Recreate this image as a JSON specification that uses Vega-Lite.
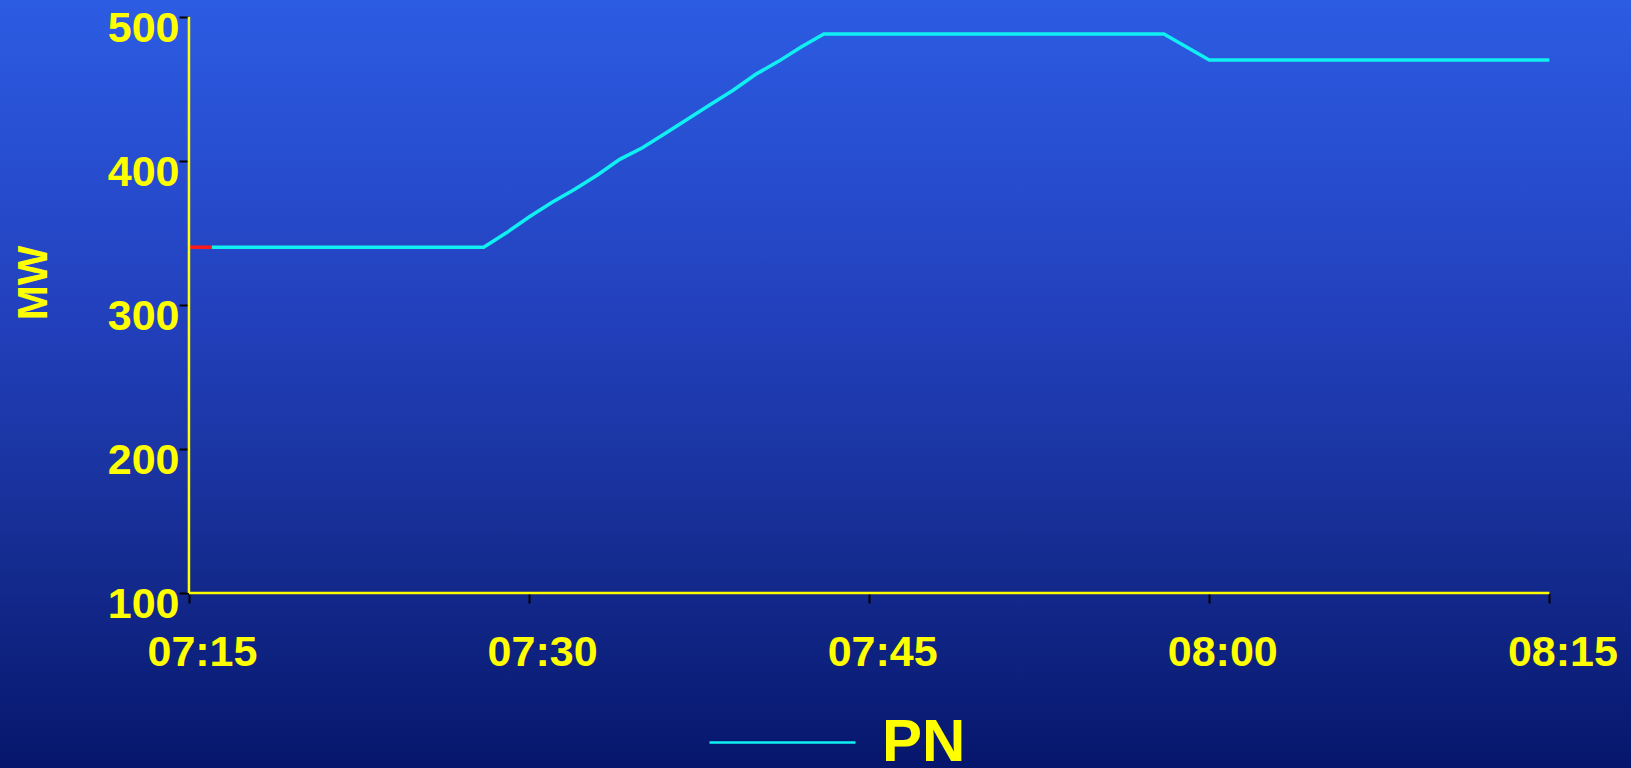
{
  "$schema": "https://vega.github.io/schema/vega-lite/v6.json",
  "width": 1631,
  "height": 768,
  "autosize": {"type": "none"},
  "padding": 0,
  "background": "#05136b",
  "config": {
    "font": "Liberation Sans",
    "view": {
      "stroke": null,
      "fill": {
        "gradient": "linear",
        "x1": 0, "y1": 0, "x2": 0, "y2": 1,
        "stops": [
          {"offset": 0, "color": "#2c5ce3"},
          {"offset": 0.4, "color": "#2341be"},
          {"offset": 0.7, "color": "#162e94"},
          {"offset": 1, "color": "#06166c"}
        ]
      }
    }
  },
  "data": {
    "values": [
      {"time": "2024-01-01T07:15:00", "mw": 340, "series": "hist"},
      {"time": "2024-01-01T07:16:00", "mw": 340, "series": "hist"},
      {"time": "2024-01-01T07:16:00", "mw": 340, "series": "PN"},
      {"time": "2024-01-01T07:17:00", "mw": 340, "series": "PN"},
      {"time": "2024-01-01T07:18:00", "mw": 340, "series": "PN"},
      {"time": "2024-01-01T07:19:00", "mw": 340, "series": "PN"},
      {"time": "2024-01-01T07:20:00", "mw": 340, "series": "PN"},
      {"time": "2024-01-01T07:21:00", "mw": 340, "series": "PN"},
      {"time": "2024-01-01T07:22:00", "mw": 340, "series": "PN"},
      {"time": "2024-01-01T07:23:00", "mw": 340, "series": "PN"},
      {"time": "2024-01-01T07:24:00", "mw": 340, "series": "PN"},
      {"time": "2024-01-01T07:25:00", "mw": 340, "series": "PN"},
      {"time": "2024-01-01T07:26:00", "mw": 340, "series": "PN"},
      {"time": "2024-01-01T07:27:00", "mw": 340, "series": "PN"},
      {"time": "2024-01-01T07:28:00", "mw": 340, "series": "PN"},
      {"time": "2024-01-01T07:29:00", "mw": 350, "series": "PN"},
      {"time": "2024-01-01T07:30:00", "mw": 361, "series": "PN"},
      {"time": "2024-01-01T07:31:00", "mw": 371, "series": "PN"},
      {"time": "2024-01-01T07:32:00", "mw": 380, "series": "PN"},
      {"time": "2024-01-01T07:33:00", "mw": 390, "series": "PN"},
      {"time": "2024-01-01T07:34:00", "mw": 401, "series": "PN"},
      {"time": "2024-01-01T07:35:00", "mw": 409, "series": "PN"},
      {"time": "2024-01-01T07:36:00", "mw": 419, "series": "PN"},
      {"time": "2024-01-01T07:37:00", "mw": 429, "series": "PN"},
      {"time": "2024-01-01T07:38:00", "mw": 439, "series": "PN"},
      {"time": "2024-01-01T07:39:00", "mw": 449, "series": "PN"},
      {"time": "2024-01-01T07:40:00", "mw": 460, "series": "PN"},
      {"time": "2024-01-01T07:41:00", "mw": 469, "series": "PN"},
      {"time": "2024-01-01T07:42:00", "mw": 479, "series": "PN"},
      {"time": "2024-01-01T07:43:00", "mw": 488, "series": "PN"},
      {"time": "2024-01-01T07:44:00", "mw": 488, "series": "PN"},
      {"time": "2024-01-01T07:45:00", "mw": 488, "series": "PN"},
      {"time": "2024-01-01T07:46:00", "mw": 488, "series": "PN"},
      {"time": "2024-01-01T07:47:00", "mw": 488, "series": "PN"},
      {"time": "2024-01-01T07:48:00", "mw": 488, "series": "PN"},
      {"time": "2024-01-01T07:49:00", "mw": 488, "series": "PN"},
      {"time": "2024-01-01T07:50:00", "mw": 488, "series": "PN"},
      {"time": "2024-01-01T07:51:00", "mw": 488, "series": "PN"},
      {"time": "2024-01-01T07:52:00", "mw": 488, "series": "PN"},
      {"time": "2024-01-01T07:53:00", "mw": 488, "series": "PN"},
      {"time": "2024-01-01T07:54:00", "mw": 488, "series": "PN"},
      {"time": "2024-01-01T07:55:00", "mw": 488, "series": "PN"},
      {"time": "2024-01-01T07:56:00", "mw": 488, "series": "PN"},
      {"time": "2024-01-01T07:57:00", "mw": 488, "series": "PN"},
      {"time": "2024-01-01T07:58:00", "mw": 488, "series": "PN"},
      {"time": "2024-01-01T07:59:00", "mw": 479, "series": "PN"},
      {"time": "2024-01-01T08:00:00", "mw": 470, "series": "PN"},
      {"time": "2024-01-01T08:01:00", "mw": 470, "series": "PN"},
      {"time": "2024-01-01T08:02:00", "mw": 470, "series": "PN"},
      {"time": "2024-01-01T08:03:00", "mw": 470, "series": "PN"},
      {"time": "2024-01-01T08:04:00", "mw": 470, "series": "PN"},
      {"time": "2024-01-01T08:05:00", "mw": 470, "series": "PN"},
      {"time": "2024-01-01T08:06:00", "mw": 470, "series": "PN"},
      {"time": "2024-01-01T08:07:00", "mw": 470, "series": "PN"},
      {"time": "2024-01-01T08:08:00", "mw": 470, "series": "PN"},
      {"time": "2024-01-01T08:09:00", "mw": 470, "series": "PN"},
      {"time": "2024-01-01T08:10:00", "mw": 470, "series": "PN"},
      {"time": "2024-01-01T08:11:00", "mw": 470, "series": "PN"},
      {"time": "2024-01-01T08:12:00", "mw": 470, "series": "PN"},
      {"time": "2024-01-01T08:13:00", "mw": 470, "series": "PN"},
      {"time": "2024-01-01T08:14:00", "mw": 470, "series": "PN"},
      {"time": "2024-01-01T08:15:00", "mw": 470, "series": "PN"}
    ]
  },
  "layer": [
    {
      "transform": [{"filter": "datum.series === 'PN'"}],
      "mark": {"type": "line", "strokeWidth": 3.5, "interpolate": "linear"},
      "encoding": {
        "x": {
          "field": "time",
          "type": "temporal",
          "scale": {
            "domain": [
              {"year": 2024, "month": 1, "date": 1, "hours": 7, "minutes": 6, "seconds": 40},
              {"year": 2024, "month": 1, "date": 1, "hours": 8, "minutes": 18, "seconds": 36}
            ],
            "nice": false
          },
          "axis": {
            "values": [
              {"year": 2024, "month": 1, "date": 1, "hours": 7, "minutes": 15},
              {"year": 2024, "month": 1, "date": 1, "hours": 7, "minutes": 30},
              {"year": 2024, "month": 1, "date": 1, "hours": 7, "minutes": 45},
              {"year": 2024, "month": 1, "date": 1, "hours": 8, "minutes": 0},
              {"year": 2024, "month": 1, "date": 1, "hours": 8, "minutes": 15}
            ],
            "format": "%H:%M",
            "offset": -175,
            "domain": false,
            "grid": false,
            "tickColor": "#000000",
            "tickWidth": 2,
            "tickSize": 10,
            "labelColor": "#ffff00",
            "labelFont": "Liberation Sans",
            "labelFontSize": 43,
            "labelFontWeight": "bold",
            "labelBaseline": "alphabetic",
            "labelPadding": 62,
            "labelOffset": 13,
            "labelFlush": false,
            "labelOverlap": false,
            "title": null
          }
        },
        "y": {
          "field": "mw",
          "type": "quantitative",
          "scale": {"domain": [-21.46, 511.59], "nice": false, "zero": false},
          "axis": {
            "values": [100, 200, 300, 400, 500],
            "offset": -189,
            "domain": false,
            "grid": false,
            "tickColor": "#000000",
            "tickWidth": 2,
            "tickSize": 10,
            "labelColor": "#ffff00",
            "labelFont": "Liberation Sans",
            "labelFontSize": 43,
            "labelFontWeight": "bold",
            "labelBaseline": "alphabetic",
            "labelPadding": 0,
            "labelOffset": 24.5,
            "labelFlush": false,
            "labelOverlap": false,
            "title": "MW",
            "titleColor": "#ffff00",
            "titleFont": "Liberation Sans",
            "titleFontSize": 42,
            "titleFontWeight": "bold",
            "titleAngle": -90,
            "titleAlign": "center",
            "titleBaseline": "alphabetic",
            "titleX": -143,
            "titleY": 282.5
          }
        },
        "color": {
          "field": "series",
          "type": "nominal",
          "scale": {"domain": ["PN"], "range": ["#10f0f2"]},
          "legend": {
            "orient": "none",
            "legendX": 708,
            "legendY": 668,
            "title": null,
            "padding": 0,
            "symbolType": "stroke",
            "symbolSize": 21316,
            "symbolStrokeWidth": 2.5,
            "labelColor": "#ffff00",
            "labelFont": "Liberation Sans",
            "labelFontSize": 60,
            "labelFontWeight": "bold",
            "labelOffset": 25,
            "labelBaseline": "middle"
          }
        }
      }
    },
    {
      "transform": [{"filter": "datum.series === 'hist'"}],
      "mark": {"type": "line", "strokeWidth": 3.5, "color": "#ff1a1a"},
      "encoding": {
        "x": {"field": "time", "type": "temporal"},
        "y": {"field": "mw", "type": "quantitative"}
      }
    },
    {
      "data": {"values": [{}]},
      "mark": {"type": "rule", "color": "#ffff00", "strokeWidth": 2.5},
      "encoding": {
        "x": {"datum": {"year": 2024, "month": 1, "date": 1, "hours": 7, "minutes": 15}, "type": "temporal"},
        "y": {"datum": 100, "type": "quantitative"},
        "y2": {"datum": 500}
      }
    },
    {
      "data": {"values": [{}]},
      "mark": {"type": "rule", "color": "#ffff00", "strokeWidth": 2.5},
      "encoding": {
        "x": {"datum": {"year": 2024, "month": 1, "date": 1, "hours": 7, "minutes": 15}, "type": "temporal"},
        "x2": {"datum": {"year": 2024, "month": 1, "date": 1, "hours": 8, "minutes": 15}},
        "y": {"datum": 100, "type": "quantitative"}
      }
    }
  ]
}
